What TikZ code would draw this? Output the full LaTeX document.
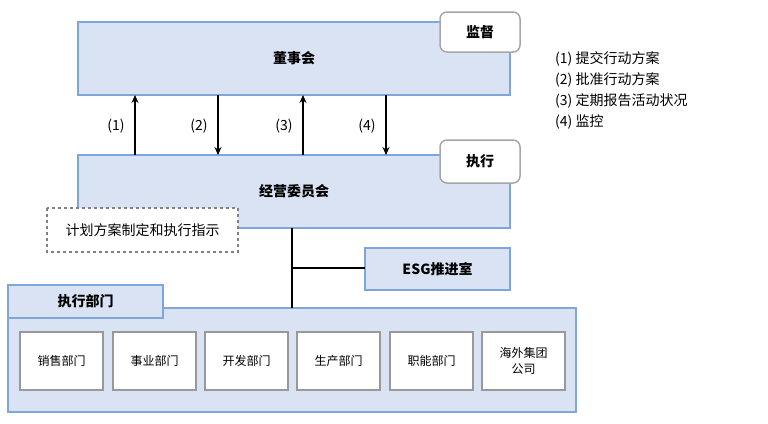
\documentclass[tikz,border=0pt]{standalone}
\usepackage{fontspec}
\setmainfont{Noto Sans CJK SC}
\usetikzlibrary{arrows.meta}
\definecolor{paleblue}{HTML}{DAE3F3}
\definecolor{edgeblue}{HTML}{7EA6DB}
\tikzset{
  panel/.style={draw=edgeblue, line width=1.5pt, fill=paleblue},
  tag/.style={draw=gray!70, line width=1.5pt, fill=white, rounded corners=7pt},
  dept/.style={draw=gray!80, line width=1.5pt, fill=white},
  flow/.style={line width=1.3pt, -{Stealth[length=8pt, width=7pt]}}
}
\begin{document}
\begin{tikzpicture}[x=1pt, y=-1pt, font=\fontsize{14}{17}\selectfont]
  \useasboundingbox (0,0) rectangle (768,423);
  % board and committee
  \draw[panel] (78,22) rectangle (510,95) node (board) [pos=.5] {\textbf{董事会}};
  \draw[panel] (78,155) rectangle (510,228) node (committee) [pos=.5] {\textbf{经营委员会}};
  \draw[tag] (440,12) rectangle (520,52) node (watch) [pos=.5] {\textbf{监督}};
  \draw[tag] (440,140) rectangle (520,183) node (exec) [pos=.5] {\textbf{执行}};
  \draw[dashed, draw=gray, line width=1.2pt, fill=white] (47,208) rectangle (238,252)
        node (plan) [pos=.5] {计划方案制定和执行指示};
  % arrows between board and committee
  \foreach \x/\t in {135/1, 218/2, 303/3, 386/4} {
    \coordinate (top\t) at (\x,95);
    \coordinate (bot\t) at (\x,155);
    \node (lab\t) at (\x-19,126) {(\t)};
  }
  \draw[flow] (bot1) -- (top1);
  \draw[flow] (top2) -- (bot2);
  \draw[flow] (bot3) -- (top3);
  \draw[flow] (top4) -- (bot4);
  % ESG office and departments
  \draw[panel] (365,248) rectangle (510,290) node (esg) [pos=.5] {\textbf{ESG推进室}};
  \draw[panel] (8,308) rectangle (576,412) node (units) [pos=.5] {};
  \draw[panel] (8,285) rectangle (163,318) node (unitstab) [pos=.5] {\textbf{执行部门}};
  \coordinate (spine) at (292,228);
  \coordinate (joint) at (292,268);
  \coordinate (esgin) at (365,268);
  \coordinate (foot) at (292,308);
  \draw[line width=1.2pt] (spine) -- (foot);
  \draw[line width=1.2pt] (joint) -- (esgin);
  \foreach \x/\n/\t in {20/sales/销售部门, 113/biz/事业部门, 205/dev/开发部门,
                        297/prod/生产部门, 390/func/职能部门} {
    \draw[dept] (\x,332) rectangle (\x+83,390) node (\n) [pos=.5] {\fontsize{12}{15}\selectfont \t};
  }
  \draw[dept] (482,332) rectangle (565,390) node (overseas) [pos=.5]
        [align=center, font=\fontsize{12}{16}\selectfont] {海外集团\\公司};
  % legend
  \node (legend) [anchor=north west, align=left, inner sep=0pt,
        font=\fontsize{14}{21}\selectfont] at (555,51)
        {(1) 提交行动方案\\(2) 批准行动方案\\(3) 定期报告活动状况\\(4) 监控};
\end{tikzpicture}
\end{document}
